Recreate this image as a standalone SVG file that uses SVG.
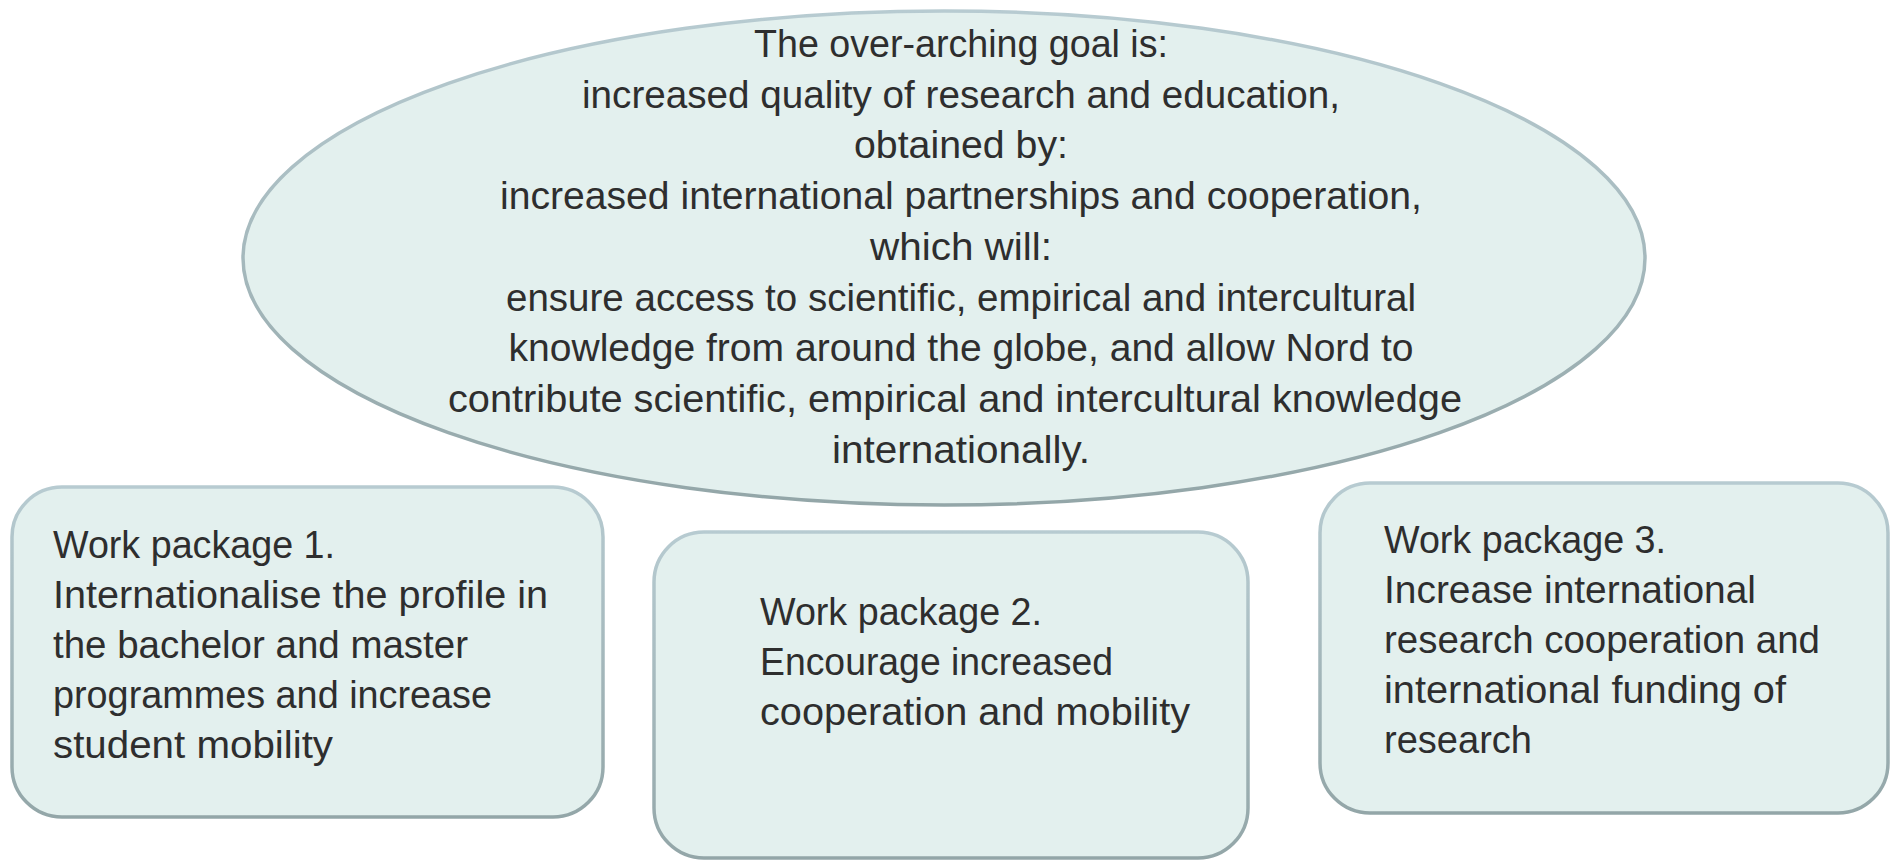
<svg xmlns="http://www.w3.org/2000/svg" width="1892" height="861" viewBox="0 0 1892 861">
<defs>
<linearGradient id="edge" x1="0" y1="0" x2="0" y2="1">
<stop offset="0" stop-color="#b7cbd1"/>
<stop offset="1" stop-color="#93a6a8"/>
</linearGradient>
<style>
.shape{fill:#e3f0ee;stroke:url(#edge);stroke-width:3.5}
.t{font-family:"Liberation Sans",Arial,sans-serif;font-size:38px;fill:#2e2e2e}
.c{text-anchor:middle}
</style>
</defs>
<rect width="1892" height="861" fill="#ffffff"/>
<g id="connectors"></g>
<g id="goal">
<ellipse class="shape" cx="944" cy="258" rx="701" ry="247"/>
<text class="t c" x="961" y="57" textLength="414" lengthAdjust="spacingAndGlyphs">The over-arching goal is:</text>
<text class="t c" x="961" y="108" textLength="758" lengthAdjust="spacingAndGlyphs">increased quality of research and education,</text>
<text class="t c" x="961" y="158" textLength="214" lengthAdjust="spacingAndGlyphs">obtained by:</text>
<text class="t c" x="961" y="209" textLength="922" lengthAdjust="spacingAndGlyphs">increased international partnerships and cooperation,</text>
<text class="t c" x="961" y="260" textLength="182" lengthAdjust="spacingAndGlyphs">which will:</text>
<text class="t c" x="961" y="311" textLength="910" lengthAdjust="spacingAndGlyphs">ensure access to scientific, empirical and intercultural</text>
<text class="t c" x="961" y="361" textLength="905" lengthAdjust="spacingAndGlyphs">knowledge from around the globe, and allow Nord to</text>
<text class="t c" x="955" y="412" textLength="1014" lengthAdjust="spacingAndGlyphs">contribute scientific, empirical and intercultural knowledge</text>
<text class="t c" x="961" y="463" textLength="258" lengthAdjust="spacingAndGlyphs">internationally.</text>
</g>
<g id="wp1">
<rect class="shape" x="12" y="487" width="591" height="330" rx="50" ry="50"/>
<text class="t" x="53" y="558" textLength="282" lengthAdjust="spacingAndGlyphs">Work package 1.</text>
<text class="t" x="53" y="608" textLength="495" lengthAdjust="spacingAndGlyphs">Internationalise the profile in</text>
<text class="t" x="53" y="658" textLength="415" lengthAdjust="spacingAndGlyphs">the bachelor and master</text>
<text class="t" x="53" y="708" textLength="439" lengthAdjust="spacingAndGlyphs">programmes and increase</text>
<text class="t" x="53" y="758" textLength="280" lengthAdjust="spacingAndGlyphs">student mobility</text>
</g>
<g id="wp2">
<rect class="shape" x="654" y="532" width="594" height="326" rx="50" ry="50"/>
<text class="t" x="760" y="625" textLength="282" lengthAdjust="spacingAndGlyphs">Work package 2.</text>
<text class="t" x="760" y="675" textLength="353" lengthAdjust="spacingAndGlyphs">Encourage increased</text>
<text class="t" x="760" y="725" textLength="430" lengthAdjust="spacingAndGlyphs">cooperation and mobility</text>
</g>
<g id="wp3">
<rect class="shape" x="1320" y="483" width="568" height="330" rx="50" ry="50"/>
<text class="t" x="1384" y="553" textLength="282" lengthAdjust="spacingAndGlyphs">Work package 3.</text>
<text class="t" x="1384" y="603" textLength="372" lengthAdjust="spacingAndGlyphs">Increase international</text>
<text class="t" x="1384" y="653" textLength="436" lengthAdjust="spacingAndGlyphs">research cooperation and</text>
<text class="t" x="1384" y="703" textLength="402" lengthAdjust="spacingAndGlyphs">international funding of</text>
<text class="t" x="1384" y="753" textLength="148" lengthAdjust="spacingAndGlyphs">research</text>
</g>
</svg>
